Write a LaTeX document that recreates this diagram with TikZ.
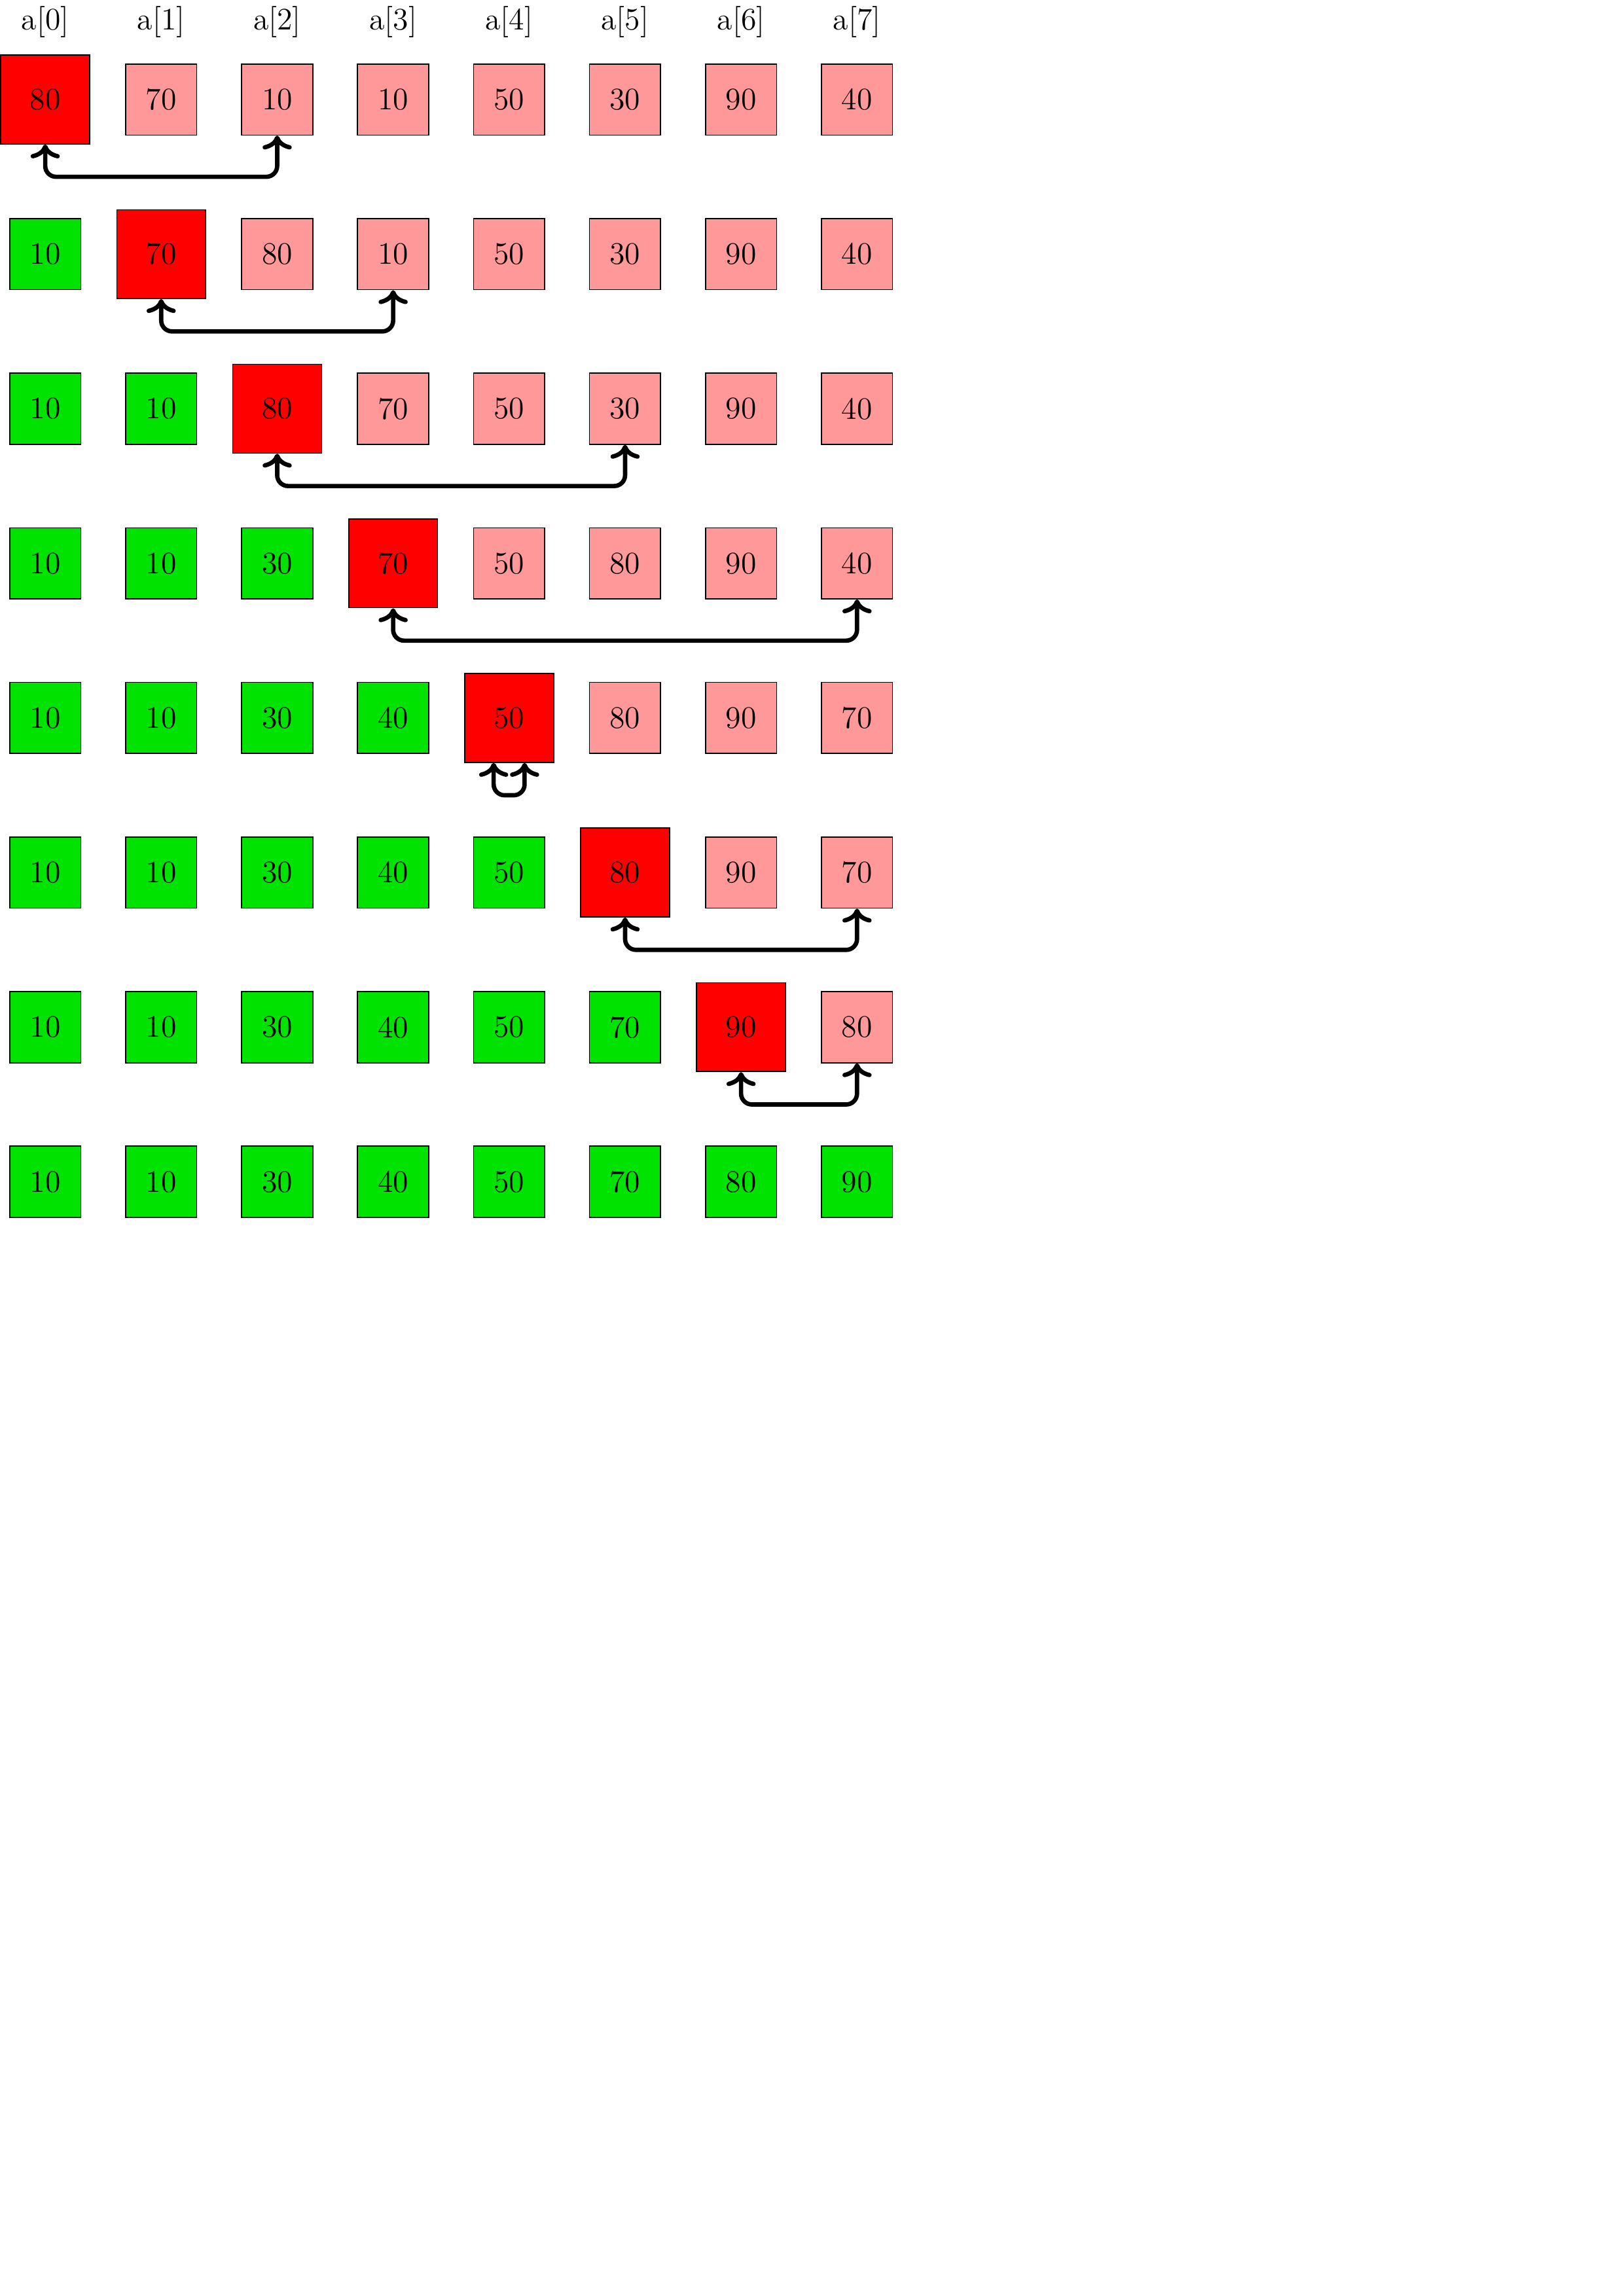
\documentclass[tikz,border=0pt]{standalone}
\usetikzlibrary{arrows.meta}
\definecolor{donegreen}{RGB}{0,226,0}
\definecolor{todopink}{RGB}{255,153,153}
\definecolor{currred}{RGB}{255,0,0}
\begin{document}
\begin{tikzpicture}[
  cell/.style={draw=black, line width=0.4pt, inner sep=0pt, minimum size=0.92cm,
    font=\fontsize{11.5pt}{14pt}\selectfont},
  done/.style={cell, fill=donegreen},
  todo/.style={cell, fill=todopink},
  cur/.style={cell, fill=currred, minimum size=1.15cm},
  lbl/.style={inner sep=0pt, font=\fontsize{11.5pt}{14pt}\selectfont},
  swaparrow/.style={<->, line width=1.6pt, rounded corners=4pt}
]
\useasboundingbox (0,0) rectangle (21,-29.7);
\foreach \col in {0,...,7}
  \node[lbl] (l\col) at ({0.585+1.5*\col},-0.287) {a[\col]};
\foreach \vals [count=\row from 0] in {
  {80,70,10,10,50,30,90,40},
  {10,70,80,10,50,30,90,40},
  {10,10,80,70,50,30,90,40},
  {10,10,30,70,50,80,90,40},
  {10,10,30,40,50,80,90,70},
  {10,10,30,40,50,80,90,70},
  {10,10,30,40,50,70,90,80},
  {10,10,30,40,50,70,80,90}} {
  \foreach \v [count=\col from 0] in \vals {
    \ifnum\col<\row \def\sty{done}\else
      \ifnum\col=\row
        \ifnum\row=7 \def\sty{done}\else\def\sty{cur}\fi
      \else\def\sty{todo}\fi
    \fi
    \node[\sty] (n\row-\col) at ({0.585+1.5*\col},{-1.287-2*\row}) {\v};
  }
}
\foreach \row/\a/\b in {0/0/2,1/1/3,2/2/5,3/3/7,5/5/7,6/6/7}
  \draw[swaparrow] (n\row-\a.south) -- ([yshift=-1cm]n\row-\a.center) -| (n\row-\b.south);
\draw[swaparrow] ([xshift=-0.2cm]n4-4.south) -- ([xshift=-0.2cm,yshift=-1cm]n4-4.center) -| ([xshift=0.2cm]n4-4.south);
\end{tikzpicture}
\end{document}
